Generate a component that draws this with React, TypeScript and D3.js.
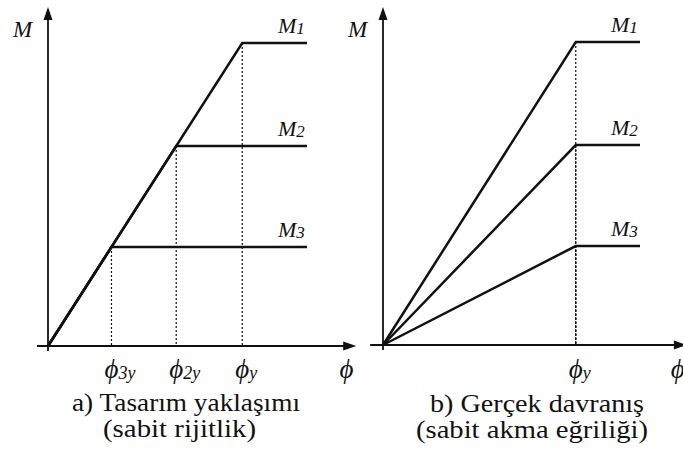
import React from "react";
import * as d3 from "d3";

// ---- data ----
const M_LEVELS = [3.0, 1.98, 0.98]; // M1, M2, M3 (relative moment)
const M_SUBS = ["1", "2", "3"];
const LEFT_YIELD_PHI = [3.0, 1.98, 0.98]; // ϕy, ϕ2y, ϕ3y (constant stiffness)
const LEFT_TICK_SUBS = ["y", "2y", "3y"];
const RIGHT_YIELD_PHI = 3; // ϕy (constant yield curvature)
const RIGHT_TICK_SUBS = ["y"];
const PHI_END = 4;
const CAPTIONS_LEFT = ["a) Tasarım yaklaşımı", "(sabit rijitlik)"];
const CAPTIONS_RIGHT = ["b) Gerçek davranış", "(sabit akma eğriliği)"];

const W = 683;
const H = 450;
const INK = "#111";
const FONT = "Liberation Serif";

type PanelProps = {
  x: d3.ScaleLinear<number, number>;
  y: d3.ScaleLinear<number, number>;
  yields: number[];
  subs: string[];
  axisStart: number;
  axisTip: number;
  phiLabelAt: number;
};

function Panel({ x, y, yields, subs, axisStart, axisTip, phiLabelAt }: PanelProps) {
  const line = d3
    .line<[number, number]>()
    .x((d) => x(d[0]))
    .y((d) => y(d[1]));
  const x0 = x(0);
  const y0 = y(0);
  const yTip = 7;
  const uniqueYields = Array.from(new Set(yields));
  return (
    <g>
      {/* axes */}
      <line x1={x0} y1={y0 + 5} x2={x0} y2={yTip + 10} stroke={INK} strokeWidth={1.8} />
      <path d={`M${x0},${yTip} L${x0 - 4.5},${yTip + 13} L${x0 + 4.5},${yTip + 13} Z`} fill={INK} />
      <line x1={x(axisStart)} y1={y0} x2={x(axisTip) - 10} y2={y0} stroke={INK} strokeWidth={1.8} />
      <path
        d={`M${x(axisTip)},${y0} L${x(axisTip) - 13},${y0 - 4.5} L${x(axisTip) - 13},${y0 + 4.5} Z`}
        fill={INK}
      />
      {/* dashed verticals */}
      {yields.map((p, i) => (
        <line
          key={"d" + i}
          x1={x(p)}
          x2={x(p)}
          y1={y(M_LEVELS[i])}
          y2={y0}
          stroke={INK}
          strokeWidth={1.2}
          strokeDasharray="2,2"
        />
      ))}
      {/* M-phi curves */}
      {M_LEVELS.map((m, i) => (
        <path
          key={"c" + i}
          d={line([
            [0, 0],
            [yields[i], m],
            [PHI_END, m],
          ]) as string}
          fill="none"
          stroke={INK}
          strokeWidth={2.5}
          strokeLinejoin="miter"
        />
      ))}
      {/* M labels */}
      {M_LEVELS.map((m, i) => (
        <text
          key={"m" + i}
          x={x(PHI_END) - 29}
          y={y(m) - 10}
          fontFamily={FONT}
          fontStyle="italic"
          fontSize={22}
          fill={INK}
        >
          M<tspan fontSize={17} dy={1}>{M_SUBS[i]}</tspan>
        </text>
      ))}
      <text x={x0 - 35} y={37} fontFamily={FONT} fontStyle="italic" fontSize={23} fill={INK}>
        M
      </text>
      {/* phi tick labels */}
      {uniqueYields.map((p, i) => (
        <text
          key={"p" + i}
          x={x(p) - 7}
          y={378}
          fontFamily={FONT}
          fontStyle="italic"
          fontSize={27}
          fill={INK}
        >
          ϕ<tspan fontSize={18} dy={1}>{subs[i]}</tspan>
        </text>
      ))}
      <text x={x(phiLabelAt)} y={378} fontFamily={FONT} fontStyle="italic" fontSize={27} fill={INK}>
        ϕ
      </text>
    </g>
  );
}

export default function App() {
  const xL = d3.scaleLinear().domain([0, PHI_END]).range([48, 307]);
  const yL = d3.scaleLinear().domain([0, 3]).range([346, 43]);
  const xR = d3.scaleLinear().domain([0, PHI_END]).range([383, 640]);
  const yR = d3.scaleLinear().domain([0, 3]).range([345, 42]);

  return (
    <svg
      width={W}
      height={H}
      viewBox={`0 0 ${W} ${H}`}
      style={{ position: "absolute", left: 0, top: 0, background: "#fff" }}
    >
      <rect width={W} height={H} fill="#fff" />
      <Panel
        x={xL}
        y={yL}
        yields={LEFT_YIELD_PHI}
        subs={LEFT_TICK_SUBS}
        axisStart={-0.17}
        axisTip={4.76}
        phiLabelAt={4.5}
      />
      <Panel
        x={xR}
        y={yR}
        yields={[RIGHT_YIELD_PHI, RIGHT_YIELD_PHI, RIGHT_YIELD_PHI]}
        subs={RIGHT_TICK_SUBS}
        axisStart={-0.2}
        axisTip={4.73}
        phiLabelAt={4.48}
      />
      {/* captions */}
      <text x={72} y={411} fontFamily={FONT} fontSize={25} fill={INK} textLength={228} lengthAdjust="spacingAndGlyphs">
        {CAPTIONS_LEFT[0]}
      </text>
      <text x={103} y={437} fontFamily={FONT} fontSize={25} fill={INK} textLength={153} lengthAdjust="spacingAndGlyphs">
        {CAPTIONS_LEFT[1]}
      </text>
      <text x={430} y={412} fontFamily={FONT} fontSize={25} fill={INK} textLength={214} lengthAdjust="spacingAndGlyphs">
        {CAPTIONS_RIGHT[0]}
      </text>
      <text x={416} y={438} fontFamily={FONT} fontSize={25} fill={INK} textLength={232} lengthAdjust="spacingAndGlyphs">
        {CAPTIONS_RIGHT[1]}
      </text>
    </svg>
  );
}
